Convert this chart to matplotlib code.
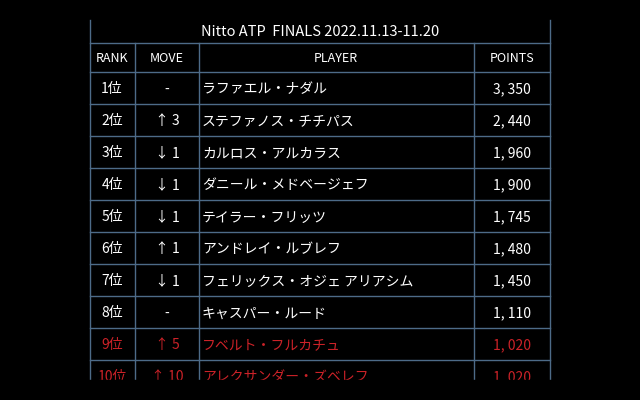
"""Nitto ATP Finals 2022 race ranking table."""

import matplotlib.pyplot as plt
from matplotlib.patches import Rectangle

plt.rcParams["font.family"] = ["Noto Sans CJK JP", "DejaVu Sans"]

TITLE = "Nitto ATP  FINALS 2022.11.13-11.20"
HEADERS = ["RANK", "MOVE", "PLAYER", "POINTS"]
ranks = ["1位", "2位", "3位", "4位", "5位", "6位", "7位", "8位", "9位", "10位"]
moves = ["-", "↑ 3", "↓ 1", "↓ 1", "↓ 1", "↑ 1", "↓ 1", "-", "↑ 5", "↑ 10"]
players = [
    "ラファエル・ナダル",
    "ステファノス・チチパス",
    "カルロス・アルカラス",
    "ダニール・メドベージェフ",
    "テイラー・フリッツ",
    "アンドレイ・ルブレフ",
    "フェリックス・オジェ アリアシム",
    "キャスパー・ルード",
    "フベルト・フルカチュ",
    "アレクサンダー・ズベレフ",
]
points = [3350, 2440, 1960, 1900, 1745, 1480, 1450, 1110, 1020, 1020]
highlighted = [False] * 8 + [True, True]

GRID = "#4d6b88"
RED = "#cc2228"

fig = plt.figure(figsize=(6.4, 4.0), dpi=100, facecolor="black")
ax = fig.add_axes([0, 0, 1, 1])
ax.set_xlim(0, 640)
ax.set_ylim(400, 0)
ax.axis("off")
ax.set_facecolor("black")

left, right, bottom = 90, 550, 380
cols = [135, 199, 474]
top, title_line, header_line, row_h = 20, 43, 72, 32

# grid
for x in [left, right] + cols:
    y0 = top if x in (left, right) else title_line
    ax.plot([x, x], [y0, bottom], color=GRID, lw=1)
for y in [title_line, header_line] + [header_line + row_h * i for i in range(1, 10)]:
    ax.plot([left, right], [y, y], color=GRID, lw=1)

ax.text(320, 32, TITLE, color="white", fontsize=10.5, ha="center", va="center")
centers = [112, 167, 336, 512]
for cx, h in zip(centers, HEADERS):
    ax.text(cx, 58, h, color="white", fontsize=9, ha="center", va="center")

for i, (r, m, p, pt, hl) in enumerate(zip(ranks, moves, players, points, highlighted)):
    y = header_line + row_h * i + row_h / 2 + 1.5
    c = RED if hl else "white"
    kw = dict(color=c, fontsize=10, va="center")
    ax.text(112, y, r, ha="center", **kw)
    ax.text(167, y, m, ha="center", **kw)
    ax.text(202, y, p, ha="left", **kw)
    ax.text(531, y, f"{pt:,}".replace(",", ", "), ha="right", **kw)

# the last row is cut off at the bottom of the picture
ax.add_patch(Rectangle((0, bottom), 640, 400 - bottom, color="black", zorder=5))

fig.savefig("out.png", dpi=100, facecolor="black")
